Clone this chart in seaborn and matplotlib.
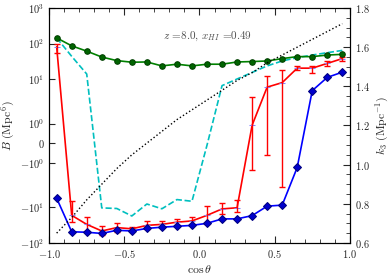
import numpy as np
import pandas as pd
import seaborn as sns
import matplotlib.pyplot as plt
from matplotlib.ticker import MultipleLocator, NullLocator

sns.set_style('ticks')
plt.rcParams['font.family'] = ['cmr10', 'DejaVu Serif']
plt.rcParams['mathtext.fontset'] = 'cm'
plt.rcParams['axes.formatter.use_mathtext'] = True
plt.rcParams['font.size'] = 7.5
plt.rcParams['axes.unicode_minus'] = True

# values
cos_theta = [-0.95, -0.85, -0.75, -0.65, -0.55, -0.45, -0.35, -0.25, -0.15, -0.05,
             0.05, 0.15, 0.25, 0.35, 0.45, 0.55, 0.65, 0.75, 0.85, 0.95]
B_green = [144, 86, 61, 41.6, 33, 29.7, 30.2, 23.4, 26.1, 23.4,
           26.1, 26.1, 30.2, 31, 32.2, 37.6, 42.7, 42.7, 47.3, 49.5]
B_blue = [-5.5, -48.5, -50, -54, -44, -46, -39, -36, -34, -32,
          -28, -21, -21, -17, -9.2, -8.6, -1.23, 4.7, 11.1, 15.6]
B_red = [81, -16.7, -30, -46, -37, -40, -32, -30, -26, -24,
         -16.7, -11, -10.2, 0.91, 5.9, 7.9, 20.2, 20.2, 27.5, 37.6]
red_err_lo = [26, 8.9, 16, 14, 11.5, 6, 9.6, 6.5, 4.3, 4.4,
              11.7, 4.6, 3.3, 2.26, 6.5, 10.5, 2.8, 5.5, 4, 5.4]
red_err_hi = [19, 10.1, 11.6, 12, 9.7, 3.5, 7.5, 6, 4.5, 5.3,
              7.3, 3.4, 4.1, 2.2, 6, 9.5, 2.4, 3.2, 4, 5.1]
B_cyan = [144, 43.5, 13.8, -10.3, -10.7, -17.4, -8, -10.9, -6, -6.7,
          -0.1, 6.5, 10, 15.3, 23.4, 32.2, 40, 47.3, 55.2, 63.9]
k3 = [0.65, 0.73, 0.82, 0.90, 0.98, 1.05, 1.11, 1.17, 1.23, 1.28,
      1.33, 1.38, 1.43, 1.47, 1.52, 1.56, 1.60, 1.64, 1.68, 1.72]

df = pd.DataFrame({'cos': cos_theta, 'green': B_green, 'blue': B_blue,
                   'red': B_red, 'cyan': B_cyan, 'k3': k3})

fig = plt.figure(figsize=(3.9, 2.77), dpi=100)
ax = fig.add_axes([0.126, 0.123, 0.771, 0.848])

sns.lineplot(data=df, x='cos', y='cyan', ax=ax, color='c', linestyle='--', lw=1.2)
sns.lineplot(data=df, x='cos', y='red', ax=ax, color='red', lw=1.2,
             marker='_', markersize=4, markeredgecolor='#8080ff')
ax.errorbar(df['cos'], df['red'], yerr=[red_err_lo, red_err_hi], fmt='none',
            ecolor='red', elinewidth=1, capsize=2, capthick=1)
sns.lineplot(data=df, x='cos', y='blue', ax=ax, color='blue', lw=1.2,
             marker='D', markersize=3.8, markerfacecolor='#0000cc', markeredgecolor='#000080')
sns.lineplot(data=df, x='cos', y='green', ax=ax, color='green', lw=1.2,
             marker='o', markersize=4, markerfacecolor='#006400', markeredgecolor='#004000')

ax.set_yscale('symlog', linthresh=2, linscale=1)
ax.set_ylim(-100, 1000)
ax.set_xlim(-1, 1)
ax.set_yticks([-100, -10, -1, 0, 1, 10, 100, 1000])
ax.yaxis.set_minor_locator(NullLocator())
ax.xaxis.set_major_locator(MultipleLocator(0.5))
ax.xaxis.set_minor_locator(MultipleLocator(0.1))
ax.tick_params(axis='x', which='both', direction='in', top=True, bottom=True)
ax.tick_params(axis='x', which='major', length=5)
ax.tick_params(axis='x', which='minor', length=3)
ax.tick_params(axis='y', which='major', direction='in', length=4, left=True, right=False)
ax.set_xlabel(r'$\cos\theta$', labelpad=2, fontsize=8.5)
ax.set_ylabel(r'$B\ (\mathrm{Mpc}^6)$', labelpad=2, fontsize=8.5)

ax.text(0.05, 160, r'$z$ =8.0, $x_{HI}$ =0.49', ha='center', va='center',
        color='0.3', fontsize=8)

ax2 = ax.twinx()
sns.lineplot(data=df, x='cos', y='k3', ax=ax2, color='black', linestyle=':', lw=1)
ax2.set_ylim(0.6, 1.8)
ax2.yaxis.set_major_locator(MultipleLocator(0.2))
ax2.yaxis.set_minor_locator(MultipleLocator(0.05))
ax2.tick_params(axis='y', which='both', direction='in')
ax2.tick_params(axis='y', which='major', length=5)
ax2.tick_params(axis='y', which='minor', length=3)
ax2.set_ylabel(r'$k_3\ (\mathrm{Mpc}^{-1})$', labelpad=3, fontsize=8.5)

for a in (ax, ax2):
    for s in a.spines.values():
        s.set_color('black')
        s.set_linewidth(0.8)

fig.savefig('out.png', dpi=100)
